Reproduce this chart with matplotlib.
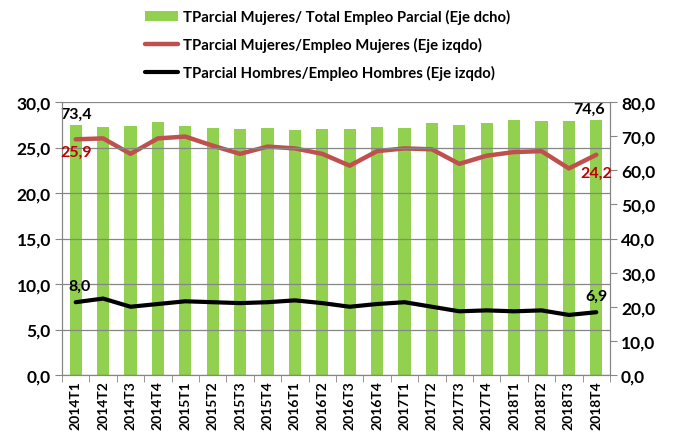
import numpy as np
import matplotlib
matplotlib.use('Agg')
import matplotlib.pyplot as plt
from matplotlib.ticker import FuncFormatter, FixedLocator

plt.rcParams['font.family'] = ['Lato', 'DejaVu Sans']
plt.rcParams['font.weight'] = 'bold'

quarters = ['2014T1','2014T2','2014T3','2014T4','2015T1','2015T2','2015T3','2015T4',
            '2016T1','2016T2','2016T3','2016T4','2017T1','2017T2','2017T3','2017T4',
            '2018T1','2018T2','2018T3','2018T4']
# TParcial Mujeres / Total Empleo Parcial (right axis)
share_women = [73.4,72.7,73.1,74.1,73.1,72.4,72.1,72.4,71.7,72.1,
               72.1,72.7,72.4,73.8,73.4,73.8,74.7,74.4,74.4,74.6]
# TParcial Mujeres / Empleo Mujeres (left axis)
rate_women = [25.9,26.0,24.3,26.0,26.2,25.2,24.3,25.1,24.9,24.3,
              23.0,24.6,24.9,24.8,23.2,24.1,24.5,24.6,22.7,24.2]
# TParcial Hombres / Empleo Hombres (left axis)
rate_men = [8.0,8.4,7.5,7.8,8.1,8.0,7.9,8.0,8.2,7.9,
            7.5,7.8,8.0,7.5,7.0,7.1,7.0,7.1,6.6,6.9]

green = '#92D050'
red = '#C0504D'
gray = '#868686'
fmt = FuncFormatter(lambda v, p: f'{v:.1f}'.replace('.', ','))

fig = plt.figure(figsize=(6.76, 4.35), dpi=100)
ax = fig.add_axes([62/676, 1-376/435, 548/676, 273/435])
ax2 = ax.twinx()
x = np.arange(len(quarters))

bars = ax2.bar(x, share_women, width=0.45, color=green, zorder=1,
               label='TParcial Mujeres/ Total Empleo Parcial (Eje dcho)')
ax.set_zorder(ax2.get_zorder() + 1)
ax.patch.set_visible(False)
l1, = ax.plot(x, rate_women, color=red, lw=3.2, solid_capstyle='round',
              label='TParcial Mujeres/Empleo Mujeres (Eje izqdo)')
l2, = ax.plot(x, rate_men, color='black', lw=3.0, solid_capstyle='round',
              label='TParcial Hombres/Empleo Hombres (Eje izqdo)')

ax.set_xlim(-0.5, len(quarters) - 0.5)
ax.set_ylim(0, 30)
ax2.set_ylim(0, 80)
ax.set_yticks(np.arange(0, 31, 5))
ax2.set_yticks(np.arange(0, 81, 10))
ax.yaxis.set_major_formatter(fmt)
ax2.yaxis.set_major_formatter(fmt)
ax.grid(axis='y', color=gray, lw=0.9)
ax2.grid(False)
ax.set_axisbelow(False)

ax.set_xticks(x)
ax.set_xticklabels(quarters, rotation=90, fontsize=10, fontweight='bold')
ax.tick_params(axis='x', which='major', length=0, pad=4)
ax.xaxis.set_minor_locator(FixedLocator(np.arange(-0.5, len(quarters), 1)))
ax.tick_params(axis='x', which='minor', length=5, color=gray)
ax.tick_params(axis='y', labelsize=12.5, length=5, color=gray, pad=3)
ax2.tick_params(axis='y', labelsize=12.5, length=5, color=gray, pad=3)

for a in (ax, ax2):
    a.spines['top'].set_visible(False)
    for s in ('left', 'right', 'bottom'):
        a.spines[s].set_color(gray)
    for lab in a.get_yticklabels():
        lab.set_fontweight('bold')

# data labels
lab_kw = dict(textcoords='offset points', ha='center', fontsize=11.5, fontweight='bold')
ax2.annotate(fmt(share_women[0], None), (x[0], share_women[0]), xytext=(0, 3),
             va='bottom', **lab_kw)
ax2.annotate(fmt(share_women[-1], None), (x[-1], share_women[-1]), xytext=(-5, 3),
             va='bottom', **lab_kw)
ax.annotate(fmt(rate_women[0], None), (x[0], rate_women[0]), xytext=(0, -4),
            va='top', color='#C00000', **lab_kw)
ax.annotate(fmt(rate_women[-1], None), (x[-1], rate_women[-1]), xytext=(0, -8),
            va='top', color='#C00000', **lab_kw)
ax.annotate(fmt(rate_men[0], None), (x[0], rate_men[0]), xytext=(3, 7),
            va='bottom', **lab_kw)
ax.annotate(fmt(rate_men[-1], None), (x[-1], rate_men[-1]), xytext=(0, 7),
            va='bottom', **lab_kw)

fig.legend(handles=[bars, l1, l2], loc='upper left', bbox_to_anchor=(138/676, 1-3/435),
           frameon=False, prop={'weight': 'bold', 'size': 10.7},
           handlelength=2.2, handletextpad=0.3, labelspacing=0.85, borderpad=0)

fig.savefig('out.png', dpi=100)
